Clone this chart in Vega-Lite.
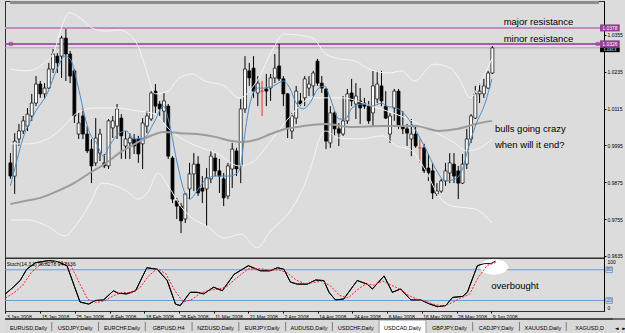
{
"$schema": "https://vega.github.io/schema/vega-lite/v6.json",
"background": "#dcdcdc",
"padding": {"left": 2, "top": 0, "right": 0, "bottom": 0},
"spacing": 0,
"bounds": "flush",
"config": {
  "font": "Liberation Sans",
  "axis": {"grid": false, "labelFont": "Liberation Sans", "labelColor": "#000000", "tickColor": "#000000", "domainColor": "#000000"},
  "text": {"font": "Liberation Sans"}
},
"datasets": {
"candles": [
{"i":0,"o":0.9938,"h":0.9970,"l":0.9886,"c":0.9895},
{"i":1,"o":0.9895,"h":1.0035,"l":0.9837,"c":1.0009},
{"i":2,"o":1.0016,"h":1.0065,"l":0.9993,"c":1.0042},
{"i":3,"o":1.0042,"h":1.0091,"l":1.0032,"c":1.0075},
{"i":4,"o":1.0058,"h":1.0117,"l":1.0042,"c":1.0097},
{"i":5,"o":1.0091,"h":1.0163,"l":1.0075,"c":1.0133},
{"i":6,"o":1.0133,"h":1.0221,"l":1.0123,"c":1.0195},
{"i":7,"o":1.0195,"h":1.0205,"l":1.0150,"c":1.0163},
{"i":8,"o":1.0163,"h":1.0198,"l":1.0146,"c":1.0182},
{"i":9,"o":1.0182,"h":1.0264,"l":1.0179,"c":1.0244},
{"i":10,"o":1.0244,"h":1.0309,"l":1.0231,"c":1.0293},
{"i":11,"o":1.0286,"h":1.0296,"l":1.0231,"c":1.0264},
{"i":12,"o":1.0286,"h":1.0352,"l":1.0215,"c":1.0345},
{"i":13,"o":1.0345,"h":1.0375,"l":1.0205,"c":1.0293},
{"i":14,"o":1.0293,"h":1.0303,"l":1.0198,"c":1.0221},
{"i":15,"o":1.0238,"h":1.0244,"l":1.0068,"c":1.0091},
{"i":16,"o":1.0032,"h":1.0101,"l":1.0016,"c":1.0068},
{"i":17,"o":1.0091,"h":1.0114,"l":1.0016,"c":1.0032},
{"i":18,"o":1.0032,"h":1.0058,"l":0.9970,"c":0.9977},
{"i":19,"o":0.9983,"h":1.0016,"l":0.9872,"c":0.9928},
{"i":20,"o":0.9938,"h":1.0084,"l":0.9928,"c":1.0019},
{"i":21,"o":0.9970,"h":1.0049,"l":0.9944,"c":1.0032},
{"i":22,"o":0.9938,"h":0.9967,"l":0.9921,"c":0.9928},
{"i":23,"o":0.9928,"h":1.0081,"l":0.9918,"c":1.0075},
{"i":24,"o":1.0052,"h":1.0091,"l":1.0019,"c":1.0075},
{"i":25,"o":1.0058,"h":1.0130,"l":1.0016,"c":1.0114},
{"i":26,"o":1.0084,"h":1.0097,"l":0.9951,"c":1.0026},
{"i":27,"o":0.9993,"h":1.0042,"l":0.9951,"c":1.0016},
{"i":28,"o":1.0003,"h":1.0035,"l":0.9951,"c":1.0019},
{"i":29,"o":1.0016,"h":1.0032,"l":0.9967,"c":0.9993},
{"i":30,"o":1.0016,"h":1.0026,"l":0.9938,"c":0.9967},
{"i":31,"o":1.0000,"h":1.0084,"l":0.9918,"c":1.0068},
{"i":32,"o":1.0058,"h":1.0107,"l":1.0035,"c":1.0091},
{"i":33,"o":1.0081,"h":1.0172,"l":1.0075,"c":1.0166},
{"i":34,"o":1.0172,"h":1.0195,"l":1.0101,"c":1.0123},
{"i":35,"o":1.0130,"h":1.0140,"l":1.0091,"c":1.0114},
{"i":36,"o":1.0107,"h":1.0166,"l":1.0068,"c":1.0140},
{"i":37,"o":1.0123,"h":1.0130,"l":0.9951,"c":0.9960},
{"i":38,"o":0.9954,"h":0.9960,"l":0.9807,"c":0.9820},
{"i":39,"o":0.9814,"h":0.9824,"l":0.9755,"c":0.9797},
{"i":40,"o":0.9797,"h":0.9807,"l":0.9709,"c":0.9749},
{"i":41,"o":0.9755,"h":0.9840,"l":0.9742,"c":0.9837},
{"i":42,"o":0.9853,"h":0.9938,"l":0.9820,"c":0.9902},
{"i":43,"o":0.9902,"h":0.9970,"l":0.9846,"c":0.9934},
{"i":44,"o":0.9934,"h":0.9960,"l":0.9830,"c":0.9840},
{"i":45,"o":0.9856,"h":0.9895,"l":0.9807,"c":0.9846},
{"i":46,"o":0.9853,"h":0.9921,"l":0.9732,"c":0.9889},
{"i":47,"o":0.9886,"h":0.9977,"l":0.9872,"c":0.9960},
{"i":48,"o":0.9954,"h":0.9970,"l":0.9895,"c":0.9912},
{"i":49,"o":0.9912,"h":0.9951,"l":0.9840,"c":0.9895},
{"i":50,"o":0.9886,"h":0.9905,"l":0.9797,"c":0.9824},
{"i":51,"o":0.9830,"h":0.9938,"l":0.9820,"c":0.9928},
{"i":52,"o":0.9918,"h":1.0003,"l":0.9856,"c":0.9983},
{"i":53,"o":0.9977,"h":0.9987,"l":0.9895,"c":0.9918},
{"i":54,"o":0.9928,"h":1.0146,"l":0.9872,"c":1.0114},
{"i":55,"o":1.0114,"h":1.0286,"l":1.0101,"c":1.0244},
{"i":56,"o":1.0238,"h":1.0264,"l":1.0189,"c":1.0215},
{"i":57,"o":1.0247,"h":1.0286,"l":1.0150,"c":1.0172},
{"i":58,"o":1.0166,"h":1.0221,"l":1.0123,"c":1.0198},
{"i":59,"o":1.0172,"h":1.0205,"l":1.0091,"c":1.0172},
{"i":60,"o":1.0179,"h":1.0228,"l":1.0123,"c":1.0172},
{"i":61,"o":1.0182,"h":1.0228,"l":1.0140,"c":1.0215},
{"i":62,"o":1.0215,"h":1.0293,"l":1.0198,"c":1.0247},
{"i":63,"o":1.0254,"h":1.0326,"l":1.0205,"c":1.0212},
{"i":64,"o":1.0212,"h":1.0221,"l":1.0123,"c":1.0163},
{"i":65,"o":1.0163,"h":1.0166,"l":1.0019,"c":1.0052},
{"i":66,"o":1.0042,"h":1.0101,"l":1.0016,"c":1.0091},
{"i":67,"o":1.0084,"h":1.0189,"l":1.0065,"c":1.0172},
{"i":68,"o":1.0140,"h":1.0166,"l":1.0123,"c":1.0130},
{"i":69,"o":1.0150,"h":1.0221,"l":1.0123,"c":1.0212},
{"i":70,"o":1.0182,"h":1.0221,"l":1.0156,"c":1.0195},
{"i":71,"o":1.0189,"h":1.0238,"l":1.0156,"c":1.0231},
{"i":72,"o":1.0270,"h":1.0277,"l":1.0189,"c":1.0198},
{"i":73,"o":1.0198,"h":1.0221,"l":1.0166,"c":1.0182},
{"i":74,"o":1.0179,"h":1.0182,"l":0.9983,"c":1.0009},
{"i":75,"o":1.0003,"h":1.0123,"l":0.9987,"c":1.0101},
{"i":76,"o":1.0101,"h":1.0107,"l":1.0026,"c":1.0049},
{"i":77,"o":1.0049,"h":1.0068,"l":0.9993,"c":1.0035},
{"i":78,"o":1.0032,"h":1.0156,"l":1.0026,"c":1.0075},
{"i":79,"o":1.0075,"h":1.0179,"l":1.0065,"c":1.0163},
{"i":80,"o":1.0166,"h":1.0212,"l":1.0123,"c":1.0140},
{"i":81,"o":1.0130,"h":1.0198,"l":1.0081,"c":1.0156},
{"i":82,"o":1.0140,"h":1.0182,"l":1.0065,"c":1.0117},
{"i":83,"o":1.0133,"h":1.0150,"l":1.0114,"c":1.0123},
{"i":84,"o":1.0123,"h":1.0140,"l":1.0065,"c":1.0075},
{"i":85,"o":1.0101,"h":1.0238,"l":1.0058,"c":1.0189},
{"i":86,"o":1.0146,"h":1.0238,"l":1.0133,"c":1.0195},
{"i":87,"o":1.0189,"h":1.0238,"l":1.0123,"c":1.0140},
{"i":88,"o":1.0123,"h":1.0172,"l":1.0081,"c":1.0084},
{"i":89,"o":1.0032,"h":1.0101,"l":1.0003,"c":1.0091},
{"i":90,"o":1.0117,"h":1.0179,"l":1.0075,"c":1.0172},
{"i":91,"o":1.0172,"h":1.0179,"l":1.0049,"c":1.0058},
{"i":92,"o":1.0058,"h":1.0107,"l":1.0032,"c":1.0049},
{"i":93,"o":1.0049,"h":1.0065,"l":0.9993,"c":1.0035},
{"i":94,"o":1.0016,"h":1.0081,"l":0.9960,"c":1.0032},
{"i":95,"o":1.0032,"h":1.0058,"l":0.9987,"c":0.9993},
{"i":96,"o":0.9987,"h":1.0016,"l":0.9938,"c":0.9987},
{"i":97,"o":0.9987,"h":1.0000,"l":0.9905,"c":0.9912},
{"i":98,"o":0.9921,"h":0.9967,"l":0.9879,"c":0.9905},
{"i":99,"o":0.9912,"h":0.9938,"l":0.9820,"c":0.9840},
{"i":100,"o":0.9837,"h":0.9872,"l":0.9830,"c":0.9846},
{"i":101,"o":0.9846,"h":0.9886,"l":0.9840,"c":0.9879},
{"i":102,"o":0.9879,"h":0.9938,"l":0.9863,"c":0.9912},
{"i":103,"o":0.9905,"h":0.9970,"l":0.9872,"c":0.9938},
{"i":104,"o":0.9934,"h":0.9970,"l":0.9872,"c":0.9895},
{"i":105,"o":0.9912,"h":0.9928,"l":0.9820,"c":0.9872},
{"i":106,"o":0.9872,"h":0.9967,"l":0.9869,"c":0.9934},
{"i":107,"o":0.9934,"h":1.0049,"l":0.9918,"c":1.0016},
{"i":108,"o":1.0016,"h":1.0097,"l":1.0003,"c":1.0091},
{"i":109,"o":1.0084,"h":1.0189,"l":1.0081,"c":1.0163},
{"i":110,"o":1.0163,"h":1.0198,"l":1.0133,"c":1.0172},
{"i":111,"o":1.0163,"h":1.0212,"l":1.0150,"c":1.0189},
{"i":112,"o":1.0182,"h":1.0238,"l":1.0179,"c":1.0231},
{"i":113,"o":1.0231,"h":1.0319,"l":1.0228,"c":1.0313}
],
"bands": [
{"b":"upper","i":0,"v":1.0244},{"b":"upper","i":4,"v":1.0238},{"b":"upper","i":7,"v":1.0254},{"b":"upper","i":10.3,"v":1.0303},{"b":"upper","i":11.7,"v":1.0368},{"b":"upper","i":13.7,"v":1.0427},{"b":"upper","i":14.9,"v":1.0423},{"b":"upper","i":17.2,"v":1.0401},{"b":"upper","i":19.5,"v":1.0375},{"b":"upper","i":22.5,"v":1.0368},{"b":"upper","i":25.5,"v":1.0371},{"b":"upper","i":27.8,"v":1.0358},{"b":"upper","i":30.1,"v":1.0313},{"b":"upper","i":31.7,"v":1.0247},{"b":"upper","i":34,"v":1.0163},{"b":"upper","i":37,"v":1.0172},{"b":"upper","i":39.3,"v":1.0212},{"b":"upper","i":42.6,"v":1.0228},{"b":"upper","i":45.6,"v":1.0205},{"b":"upper","i":50.2,"v":1.0189},{"b":"upper","i":53.6,"v":1.0150},{"b":"upper","i":57.8,"v":1.0205},{"b":"upper","i":61.7,"v":1.0313},{"b":"upper","i":64,"v":1.0358},{"b":"upper","i":68.6,"v":1.0352},{"b":"upper","i":70.9,"v":1.0345},{"b":"upper","i":73.9,"v":1.0293},{"b":"upper","i":76.2,"v":1.0280},{"b":"upper","i":80.8,"v":1.0270},{"b":"upper","i":84.1,"v":1.0244},{"b":"upper","i":88.7,"v":1.0231},{"b":"upper","i":91.7,"v":1.0238},{"b":"upper","i":94.7,"v":1.0205},{"b":"upper","i":99.3,"v":1.0260},{"b":"upper","i":103.2,"v":1.0247},{"b":"upper","i":105.5,"v":1.0205},{"b":"upper","i":107.8,"v":1.0150},{"b":"upper","i":110.1,"v":1.0198},{"b":"upper","i":112.9,"v":1.0277},
{"b":"middle","i":0,"v":1.0000},{"b":"middle","i":4,"v":1.0000},{"b":"middle","i":8.7,"v":1.0016},{"b":"middle","i":12.6,"v":1.0058},{"b":"middle","i":15.6,"v":1.0101},{"b":"middle","i":19.5,"v":1.0117},{"b":"middle","i":24.8,"v":1.0117},{"b":"middle","i":30.1,"v":1.0107},{"b":"middle","i":33.3,"v":1.0100},{"b":"middle","i":38.2,"v":1.0035},{"b":"middle","i":43.7,"v":0.9993},{"b":"middle","i":48.3,"v":0.9970},{"b":"middle","i":53.6,"v":0.9928},{"b":"middle","i":57.1,"v":0.9944},{"b":"middle","i":60.5,"v":1.0000},{"b":"middle","i":64.7,"v":1.0075},{"b":"middle","i":70.9,"v":1.0150},{"b":"middle","i":77.8,"v":1.0150},{"b":"middle","i":84.7,"v":1.0123},{"b":"middle","i":91.7,"v":1.0090},{"b":"middle","i":97.9,"v":1.0050},{"b":"middle","i":103.9,"v":1.0005},{"b":"middle","i":107.1,"v":0.9977},{"b":"middle","i":110.1,"v":0.9987},{"b":"middle","i":112.9,"v":1.0016},
{"b":"lower","i":0,"v":0.9752},{"b":"lower","i":4,"v":0.9752},{"b":"lower","i":8.6,"v":0.9732},{"b":"lower","i":12.8,"v":0.9700},{"b":"lower","i":15.6,"v":0.9739},{"b":"lower","i":18.6,"v":0.9804},{"b":"lower","i":21.4,"v":0.9872},{"b":"lower","i":24.8,"v":0.9863},{"b":"lower","i":27.8,"v":0.9840},{"b":"lower","i":29.8,"v":0.9820},{"b":"lower","i":32.4,"v":0.9846},{"b":"lower","i":34.5,"v":0.9905},{"b":"lower","i":37,"v":0.9863},{"b":"lower","i":39.9,"v":0.9797},{"b":"lower","i":42.9,"v":0.9755},{"b":"lower","i":46,"v":0.9732},{"b":"lower","i":50.2,"v":0.9693},{"b":"lower","i":54.1,"v":0.9706},{"b":"lower","i":57.8,"v":0.9661},{"b":"lower","i":61,"v":0.9716},{"b":"lower","i":65.6,"v":0.9781},{"b":"lower","i":68.6,"v":0.9856},{"b":"lower","i":70.9,"v":0.9944},{"b":"lower","i":72.5,"v":1.0019},{"b":"lower","i":73.9,"v":1.0042},{"b":"lower","i":77.1,"v":1.0019},{"b":"lower","i":81.7,"v":1.0016},{"b":"lower","i":87.2,"v":1.0026},{"b":"lower","i":90.5,"v":0.9993},{"b":"lower","i":93.5,"v":0.9983},{"b":"lower","i":97.4,"v":0.9912},{"b":"lower","i":100.4,"v":0.9830},{"b":"lower","i":103.6,"v":0.9797},{"b":"lower","i":108.8,"v":0.9788},{"b":"lower","i":112.9,"v":0.9742}
],
"fast": [
{"i":0,"v":0.9863},{"i":1,"v":0.9918},{"i":2.9,"v":1.0016},{"i":5.7,"v":1.0101},{"i":8.7,"v":1.0166},{"i":11,"v":1.0247},{"i":12.8,"v":1.0286},{"i":14,"v":1.0277},{"i":16,"v":1.0179},{"i":17.4,"v":1.0091},{"i":18.6,"v":1.0035},{"i":20.2,"v":1.0003},{"i":21.8,"v":0.9960},{"i":23.2,"v":0.9993},{"i":25.5,"v":1.0035},{"i":27.1,"v":1.0042},{"i":29,"v":1.0016},{"i":31.3,"v":1.0019},{"i":33.6,"v":1.0068},{"i":35.9,"v":1.0123},{"i":37,"v":1.0081},{"i":39.1,"v":0.9938},{"i":40.9,"v":0.9840},{"i":42.1,"v":0.9820},{"i":43.7,"v":0.9846},{"i":46,"v":0.9886},{"i":48.3,"v":0.9895},{"i":51.3,"v":0.9895},{"i":53.2,"v":0.9905},{"i":54.1,"v":0.9938},{"i":54.8,"v":1.0016},{"i":55.9,"v":1.0114},{"i":57.8,"v":1.0182},{"i":59.4,"v":1.0182},{"i":61.7,"v":1.0189},{"i":64,"v":1.0205},{"i":65.6,"v":1.0179},{"i":67,"v":1.0133},{"i":68.6,"v":1.0114},{"i":70.2,"v":1.0133},{"i":72.1,"v":1.0179},{"i":73.7,"v":1.0189},{"i":74.8,"v":1.0156},{"i":77.1,"v":1.0081},{"i":78.5,"v":1.0081},{"i":80.1,"v":1.0117},{"i":82.4,"v":1.0130},{"i":84.7,"v":1.0123},{"i":87.1,"v":1.0133},{"i":88.2,"v":1.0123},{"i":90.5,"v":1.0117},{"i":92.8,"v":1.0091},{"i":95.1,"v":1.0042},{"i":97.4,"v":0.9983},{"i":99.7,"v":0.9918},{"i":102,"v":0.9879},{"i":104.3,"v":0.9886},{"i":106,"v":0.9918},{"i":107.3,"v":0.9983},{"i":109,"v":1.0058},{"i":111.3,"v":1.0133},{"i":112.9,"v":1.0212}
],
"slow": [
{"i":0,"v":0.9804},{"i":3.4,"v":0.9814},{"i":7,"v":0.9824},{"i":11,"v":0.9846},{"i":14.9,"v":0.9872},{"i":18.6,"v":0.9905},{"i":22.5,"v":0.9938},{"i":25.5,"v":0.9970},{"i":28.3,"v":0.9993},{"i":32.2,"v":1.0022},{"i":35.9,"v":1.0039},{"i":39.8,"v":1.0035},{"i":43.7,"v":1.0032},{"i":48.3,"v":1.0022},{"i":52,"v":1.0009},{"i":54.3,"v":1.0006},{"i":58.2,"v":1.0016},{"i":61,"v":1.0032},{"i":64.7,"v":1.0049},{"i":68.6,"v":1.0058},{"i":73.9,"v":1.0065},{"i":80.1,"v":1.0055},{"i":87.1,"v":1.0058},{"i":95.1,"v":1.0058},{"i":100.4,"v":1.0042},{"i":105,"v":1.0049},{"i":109,"v":1.0065},{"i":112.9,"v":1.0075}
],
"stoch": [
{"s":"K","i":0,"v":33},{"s":"K","i":1.8,"v":46},{"s":"K","i":3.4,"v":59},{"s":"K","i":4.9,"v":81},{"s":"K","i":7,"v":94},{"s":"K","i":10,"v":98},{"s":"K","i":12,"v":96},{"s":"K","i":14.2,"v":88},{"s":"K","i":17.2,"v":17},{"s":"K","i":19.2,"v":13},{"s":"K","i":20.7,"v":20},{"s":"K","i":22.6,"v":21},{"s":"K","i":24.9,"v":39},{"s":"K","i":26,"v":34},{"s":"K","i":28,"v":33},{"s":"K","i":30,"v":39},{"s":"K","i":32.6,"v":84},{"s":"K","i":35,"v":81},{"s":"K","i":37.3,"v":59},{"s":"K","i":39.2,"v":13},{"s":"K","i":40.3,"v":10},{"s":"K","i":42.6,"v":36},{"s":"K","i":44.2,"v":36},{"s":"K","i":45.7,"v":33},{"s":"K","i":48,"v":46},{"s":"K","i":50,"v":39},{"s":"K","i":52.7,"v":71},{"s":"K","i":56,"v":88},{"s":"K","i":58.8,"v":78},{"s":"K","i":61,"v":78},{"s":"K","i":62.7,"v":84},{"s":"K","i":64.2,"v":81},{"s":"K","i":65.7,"v":56},{"s":"K","i":67.3,"v":52},{"s":"K","i":69.6,"v":52},{"s":"K","i":71.5,"v":60},{"s":"K","i":73.4,"v":59},{"s":"K","i":74.6,"v":36},{"s":"K","i":76.1,"v":21},{"s":"K","i":78,"v":23},{"s":"K","i":81.1,"v":59},{"s":"K","i":83.4,"v":52},{"s":"K","i":84.6,"v":42.5},{"s":"K","i":87.3,"v":68},{"s":"K","i":89.2,"v":36},{"s":"K","i":91.1,"v":42.5},{"s":"K","i":93.5,"v":21},{"s":"K","i":95.8,"v":21},{"s":"K","i":97.7,"v":13.5},{"s":"K","i":99.6,"v":8},{"s":"K","i":101.5,"v":10},{"s":"K","i":103.1,"v":26},{"s":"K","i":105.4,"v":28},{"s":"K","i":106.5,"v":36},{"s":"K","i":108.8,"v":88},{"s":"K","i":110.4,"v":92},{"s":"K","i":111.9,"v":92},{"s":"K","i":113,"v":96.8},
{"s":"D","i":0,"v":25},{"s":"D","i":2,"v":35},{"s":"D","i":4,"v":50},{"s":"D","i":6,"v":75},{"s":"D","i":8,"v":90},{"s":"D","i":11,"v":96},{"s":"D","i":13,"v":96},{"s":"D","i":15,"v":90},{"s":"D","i":17,"v":55},{"s":"D","i":19,"v":22},{"s":"D","i":21,"v":16},{"s":"D","i":23,"v":20},{"s":"D","i":25,"v":30},{"s":"D","i":27,"v":36},{"s":"D","i":29,"v":35},{"s":"D","i":31,"v":45},{"s":"D","i":33,"v":68},{"s":"D","i":35,"v":82},{"s":"D","i":37,"v":72},{"s":"D","i":39,"v":40},{"s":"D","i":41,"v":17},{"s":"D","i":43,"v":22},{"s":"D","i":45,"v":35},{"s":"D","i":47,"v":40},{"s":"D","i":49,"v":42},{"s":"D","i":51,"v":47},{"s":"D","i":53,"v":62},{"s":"D","i":56,"v":82},{"s":"D","i":59,"v":82},{"s":"D","i":61,"v":79},{"s":"D","i":63,"v":80},{"s":"D","i":65,"v":74},{"s":"D","i":67,"v":60},{"s":"D","i":69,"v":53},{"s":"D","i":71,"v":55},{"s":"D","i":73,"v":58},{"s":"D","i":75,"v":48},{"s":"D","i":77,"v":30},{"s":"D","i":79,"v":25},{"s":"D","i":81,"v":40},{"s":"D","i":83,"v":52},{"s":"D","i":85,"v":50},{"s":"D","i":87,"v":58},{"s":"D","i":89,"v":50},{"s":"D","i":91,"v":42},{"s":"D","i":93,"v":30},{"s":"D","i":95,"v":22},{"s":"D","i":97,"v":18},{"s":"D","i":99,"v":12},{"s":"D","i":101,"v":9},{"s":"D","i":103,"v":16},{"s":"D","i":105,"v":25},{"s":"D","i":107,"v":32},{"s":"D","i":109,"v":65},{"s":"D","i":111,"v":88},{"s":"D","i":113,"v":94.3}
],
"tabs": [
{"tab":"EURUSD,Daily"},{"tab":"USDJPY,Daily"},{"tab":"EURCHF,Daily"},{"tab":"GBPUSD,H4"},{"tab":"NZDUSD,Daily"},{"tab":"EURJPY,Daily"},{"tab":"AUDUSD,Daily"},{"tab":"USDCHF,Daily"},{"tab":"USDCAD,Daily"},{"tab":"GBPJPY,Daily"},{"tab":"CADJPY,Daily"},{"tab":"XAUUSD,Daily"},{"tab":"XAGUSD,D"}
]
},
"vconcat": [
{
  "width": 599, "height": 257,
  "view": {"stroke": "#303030", "strokeWidth": 1},
  "layer": [
    {"data": {"values": [{}]}, "mark": {"type": "rect", "color": "#8c8c8c"},
     "encoding": {
       "x": {"datum": -0.1, "type": "quantitative", "scale": {"domain": [-0.1, 138], "nice": false, "zero": false}, "axis": null},
       "x2": {"datum": 138},
       "y": {"datum": 1.0456, "type": "quantitative", "scale": {"domain": [0.96279, 1.04658], "nice": false, "zero": false},
             "axis": {"orient": "right", "title": null, "values": [1.0415,1.0355,1.0295,1.0235,1.0175,1.0115,1.0055,0.9995,0.9935,0.9875,0.9815,0.9755,0.9695,0.9635], "format": ".4f", "labelFontSize": 5, "tickSize": 2, "labelPadding": 1, "minExtent": 24, "maxExtent": 24, "labelFlush": false, "labelOverlap": false}},
       "y2": {"datum": 1.04658}
     }},
    {"data": {"values": [{}]}, "mark": {"type": "rule", "color": "#c38ac3", "strokeWidth": 2}, "encoding": {"y": {"datum": 1.0378}}},
    {"data": {"values": [{}]}, "mark": {"type": "rule", "color": "#9a2f9a", "strokeWidth": 1.5}, "encoding": {"y": {"datum": 1.0326}}},
    {"data": {"values": [{}]}, "mark": {"type": "rule", "color": "#a8a8a8", "strokeWidth": 1}, "encoding": {"y": {"datum": 1.0313}}},
    {"data": {"name": "candles"}, "mark": {"type": "rule", "strokeWidth": 1},
     "encoding": {
       "x": {"field": "i", "type": "quantitative"},
       "y": {"field": "l", "type": "quantitative"},
       "y2": {"field": "h"},
       "stroke": {"condition": {"test": "datum.c == datum.o", "value": "#f03030"}, "value": "#000000"}
     }},
    {"data": {"name": "candles"}, "mark": {"type": "bar", "size": 3, "strokeWidth": 0.7},
     "encoding": {
       "x": {"field": "i", "type": "quantitative"},
       "y": {"field": "o", "type": "quantitative"},
       "y2": {"field": "c"},
       "fill": {"condition": [{"test": "datum.c > datum.o", "value": "#ffffff"}, {"test": "datum.c == datum.o", "value": "#f03030"}], "value": "#000000"},
       "stroke": {"condition": {"test": "datum.c == datum.o", "value": "#f03030"}, "value": "#000000"}
     }},
    {"data": {"name": "bands"}, "mark": {"type": "line", "color": "#f6f6f6", "strokeWidth": 1, "interpolate": "monotone"},
     "encoding": {"x": {"field": "i", "type": "quantitative"}, "y": {"field": "v", "type": "quantitative"}, "detail": {"field": "b"}}},
    {"data": {"name": "slow"}, "mark": {"type": "line", "color": "#9c9c9c", "strokeWidth": 2, "interpolate": "monotone"},
     "encoding": {"x": {"field": "i", "type": "quantitative"}, "y": {"field": "v", "type": "quantitative"}}},
    {"data": {"name": "fast"}, "mark": {"type": "line", "color": "#4a8cc8", "strokeWidth": 1, "interpolate": "monotone"},
     "encoding": {"x": {"field": "i", "type": "quantitative"}, "y": {"field": "v", "type": "quantitative"}}},
    {"data": {"values": [{}]}, "mark": {"type": "point", "shape": "square", "size": 10, "filled": false, "color": "#9a2f9a", "strokeWidth": 1},
     "encoding": {"x": {"datum": 0.1}, "y": {"datum": 1.0326}}},
    {"data": {"values": [{}]}, "mark": {"type": "point", "shape": "square", "size": 10, "filled": false, "color": "#9a2f9a", "strokeWidth": 1},
     "encoding": {"x": {"datum": 137.7}, "y": {"datum": 1.0326}}},
    {"data": {"values": [{}]}, "mark": {"type": "text", "align": "left", "baseline": "middle", "fontSize": 9.5, "color": "#000000"},
     "encoding": {"x": {"datum": 115.65}, "y": {"datum": 1.0397}, "text": {"value": "major resistance"}}},
    {"data": {"values": [{}]}, "mark": {"type": "text", "align": "left", "baseline": "middle", "fontSize": 9.5, "color": "#000000"},
     "encoding": {"x": {"datum": 115.65}, "y": {"datum": 1.0342}, "text": {"value": "minor resistance"}}},
    {"data": {"values": [{}]}, "mark": {"type": "text", "align": "left", "baseline": "middle", "fontSize": 9.5, "color": "#000000"},
     "encoding": {"x": {"datum": 113.6}, "y": {"datum": 1.0049}, "text": {"value": "bulls going crazy"}}},
    {"data": {"values": [{}]}, "mark": {"type": "text", "align": "left", "baseline": "middle", "fontSize": 9.5, "color": "#000000"},
     "encoding": {"x": {"datum": 113.6}, "y": {"datum": 0.9996}, "text": {"value": "when will it end?"}}},
    {"data": {"values": [{}]}, "mark": {"type": "rect", "color": "#000000"},
     "encoding": {"x": {"datum": 138.25}, "x2": {"datum": 142.86}, "y": {"datum": 1.0299}, "y2": {"datum": 1.03146}}},
    {"data": {"values": [{}]}, "mark": {"type": "text", "align": "center", "baseline": "middle", "fontSize": 4.2, "color": "#ffffff"},
     "encoding": {"x": {"datum": 140.55}, "y": {"datum": 1.03068}, "text": {"value": "1.0313"}}},
    {"data": {"values": [{}]}, "mark": {"type": "rect", "color": "#963a96"},
     "encoding": {"x": {"datum": 138.25}, "x2": {"datum": 142.86}, "y": {"datum": 1.03146}, "y2": {"datum": 1.03374}}},
    {"data": {"values": [{}]}, "mark": {"type": "text", "align": "center", "baseline": "middle", "fontSize": 5, "color": "#ffffff"},
     "encoding": {"x": {"datum": 140.55}, "y": {"datum": 1.0326}, "text": {"value": "1.0326"}}},
    {"data": {"values": [{}]}, "mark": {"type": "rect", "color": "#963a96"},
     "encoding": {"x": {"datum": 138.25}, "x2": {"datum": 142.86}, "y": {"datum": 1.03666}, "y2": {"datum": 1.03894}}},
    {"data": {"values": [{}]}, "mark": {"type": "text", "align": "center", "baseline": "middle", "fontSize": 5, "color": "#ffffff"},
     "encoding": {"x": {"datum": 140.55}, "y": {"datum": 1.0378}, "text": {"value": "1.0378"}}}
  ]
},
{
  "spacing": 8,
  "bounds": "flush",
  "vconcat": [
{
  "width": 599, "height": 53,
  "view": {"stroke": "#303030", "strokeWidth": 1},
  "layer": [
    {"data": {"name": "stoch"}, "transform": [{"filter": "datum.s == 'K'"}], "mark": {"type": "line", "color": "#000000", "strokeWidth": 1},
     "encoding": {
       "x": {"field": "i", "type": "quantitative", "scale": {"domain": [-0.1, 138], "nice": false, "zero": false},
             "axis": {"title": null, "values": [0,8,16,24,32,40,48,56,64,72,80,88,96,104,112], "labelExpr": "['3 Jan 2008','15 Jan 2008','25 Jan 2008','6 Feb 2008','18 Feb 2008','28 Feb 2008','11 Mar 2008','21 Mar 2008','2 Apr 2008','14 Apr 2008','24 Apr 2008','6 May 2008','16 May 2008','28 May 2008','9 Jun 2008'][round(datum.value/8)]", "labelAlign": "left", "labelFontSize": 5, "tickSize": 2, "labelPadding": 1, "labelOffset": 1, "domain": false, "labelFlush": false, "labelOverlap": false, "labelBound": false, "minExtent": 8, "maxExtent": 8}},
       "y": {"field": "v", "type": "quantitative", "scale": {"domain": [-0.5, 103], "nice": false, "zero": false},
             "axis": {"orient": "right", "title": null, "values": [100, 0], "labelFontSize": 5, "tickSize": 0, "labelPadding": 3, "labelFlush": 5, "labelOverlap": false, "minExtent": 24, "maxExtent": 24}}
     }},
    {"data": {"values": [{}]}, "mark": {"type": "rule", "color": "#303030", "strokeWidth": 1.5}, "encoding": {"y": {"datum": 102.6}}},
    {"data": {"values": [{}]}, "mark": {"type": "rule", "color": "#6e9bd0", "strokeWidth": 1}, "encoding": {"y": {"datum": 80}}},
    {"data": {"values": [{}]}, "mark": {"type": "rule", "color": "#6e9bd0", "strokeWidth": 1}, "encoding": {"y": {"datum": 20}}},
    {"data": {"values": [{}]}, "mark": {"type": "point", "shape": "M-1,0C-1,-0.304,-0.552,-0.55,0,-0.55C0.552,-0.55,1,-0.304,1,0C1,0.304,0.552,0.55,0,0.55C-0.552,0.55,-1,0.304,-1,0Z", "size": 784, "filled": true, "color": "#ffffff", "opacity": 1},
     "encoding": {"x": {"datum": 112.65}, "y": {"datum": 85.4}}},
    {"data": {"name": "stoch"}, "transform": [{"filter": "datum.s == 'K'"}], "mark": {"type": "line", "color": "#000000", "strokeWidth": 1},
     "encoding": {"x": {"field": "i", "type": "quantitative"}, "y": {"field": "v", "type": "quantitative"}}},
    {"data": {"name": "stoch"}, "transform": [{"filter": "datum.s == 'D'"}], "mark": {"type": "line", "color": "#ff2020", "strokeWidth": 1, "strokeDash": [2, 1.5]},
     "encoding": {"x": {"field": "i", "type": "quantitative"}, "y": {"field": "v", "type": "quantitative"}}},
    {"data": {"values": [{}]}, "mark": {"type": "text", "align": "left", "baseline": "middle", "fontSize": 5, "color": "#000000"},
     "encoding": {"x": {"datum": 0.3}, "y": {"datum": 91.3}, "text": {"value": "Stoch(14,3,3) 96.8278 94.3136"}}},
    {"data": {"values": [{}]}, "mark": {"type": "text", "align": "left", "baseline": "middle", "fontSize": 9.5, "color": "#000000"},
     "encoding": {"x": {"datum": 112}, "y": {"datum": 48.3}, "text": {"value": "overbought"}}},
    {"data": {"values": [{}]}, "mark": {"type": "rect", "fill": "#dcdcdc", "stroke": "#5b8fd0", "strokeWidth": 0.8},
     "encoding": {"x": {"datum": 138.45}, "x2": {"datum": 139.95}, "y": {"datum": 74.5}, "y2": {"datum": 85.5}}},
    {"data": {"values": [{}]}, "mark": {"type": "text", "align": "center", "baseline": "middle", "fontSize": 4.5, "color": "#1f4fa0"},
     "encoding": {"x": {"datum": 139.2}, "y": {"datum": 80}, "text": {"value": "80"}}},
    {"data": {"values": [{}]}, "mark": {"type": "rect", "fill": "#dcdcdc", "stroke": "#5b8fd0", "strokeWidth": 0.8},
     "encoding": {"x": {"datum": 138.45}, "x2": {"datum": 139.95}, "y": {"datum": 14.5}, "y2": {"datum": 25.5}}},
    {"data": {"values": [{}]}, "mark": {"type": "text", "align": "center", "baseline": "middle", "fontSize": 4.5, "color": "#1f4fa0"},
     "encoding": {"x": {"datum": 139.2}, "y": {"datum": 20}, "text": {"value": "20"}}}
  ]
},
{
  "spacing": 0,
  "bounds": "flush",
  "hconcat": [
    {
      "width": 608, "height": 15,
      "view": {"fill": "#d9d9d9", "stroke": null},
      "data": {"name": "tabs"},
      "layer": [
        {"mark": {"type": "rule", "color": "#4a4a4a", "strokeWidth": 1},
         "encoding": {"y": {"datum": 1, "type": "quantitative", "scale": {"domain": [0, 1], "nice": false, "zero": false}, "axis": null}}},
        {"transform": [{"filter": "datum.tab == 'USDCAD,Daily'"}], "mark": {"type": "bar", "fill": "#ffffff", "stroke": "#8a8a8a", "strokeWidth": 0.8},
         "encoding": {
           "x": {"field": "tab", "type": "nominal", "sort": null, "scale": {"domain": ["EURUSD,Daily","USDJPY,Daily","EURCHF,Daily","GBPUSD,H4","NZDUSD,Daily","EURJPY,Daily","AUDUSD,Daily","USDCHF,Daily","USDCAD,Daily","GBPJPY,Daily","CADJPY,Daily","XAUUSD,Daily","XAGUSD,D"], "paddingInner": 0, "paddingOuter": 0}, "axis": null},
           "y": {"datum": 0}, "y2": {"datum": 0.93}
         }},
        {"transform": [{"filter": "datum.tab != 'EURUSD,Daily' && datum.tab != 'USDCAD,Daily' && datum.tab != 'GBPJPY,Daily'"}], "mark": {"type": "rule", "color": "#7c7c7c", "strokeWidth": 1},
         "encoding": {"x": {"field": "tab", "type": "nominal", "bandPosition": 0}, "y": {"datum": 0.2}, "y2": {"datum": 0.8}}},
        {"mark": {"type": "text", "fontSize": 5.5, "color": "#000000", "baseline": "middle"},
         "encoding": {"x": {"field": "tab", "type": "nominal"}, "y": {"datum": 0.42}, "text": {"field": "tab"}}}
      ]
    },
    {
      "width": 15, "height": 15,
      "view": {"fill": "#d9d9d9", "stroke": null},
      "data": {"values": [{"a": "◄"}, {"a": "►"}]},
      "layer": [
        {"mark": {"type": "rule", "color": "#4a4a4a", "strokeWidth": 1},
         "encoding": {"y": {"datum": 1, "type": "quantitative", "scale": {"domain": [0, 1], "nice": false, "zero": false}, "axis": null}}},
        {"mark": {"type": "text", "fontSize": 5, "font": "DejaVu Sans", "color": "#000000", "baseline": "middle"},
         "encoding": {"x": {"field": "a", "type": "nominal", "sort": null, "axis": null, "scale": {"paddingInner": 0, "paddingOuter": 0}}, "y": {"datum": 0.42}, "text": {"field": "a"}}}
      ]
    }
  ]
}
  ]
}
]
}
